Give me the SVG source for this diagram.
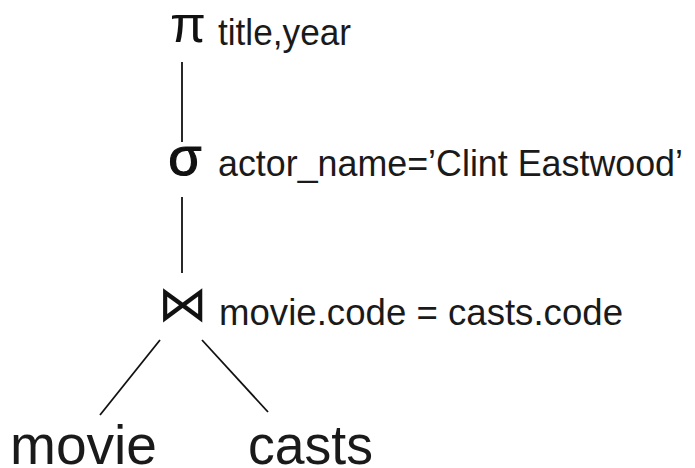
<svg xmlns="http://www.w3.org/2000/svg" width="695" height="468" viewBox="0 0 695 468">
<style>
.lbl{font-family:"Liberation Sans","Helvetica Neue",Arial,sans-serif;font-size:36px;fill:#1a1a1a}
.big{font-family:"Liberation Sans","Helvetica Neue",Arial,sans-serif;font-size:56px;fill:#1a1a1a}
.op{font-family:"Liberation Sans","DejaVu Sans",sans-serif;fill:#111;text-anchor:middle}
.edge{stroke:#111;stroke-width:1.8;fill:none}
</style>
<rect width="695" height="468" fill="#fff"/>
<g id="connectors">
<line class="edge" x1="182" y1="62" x2="182" y2="142"/>
<line class="edge" x1="182" y1="197" x2="182" y2="273"/>
<line class="edge" x1="160" y1="340" x2="100" y2="415"/>
<line class="edge" x1="202" y1="340" x2="268" y2="412"/>
</g>
<g id="project">
<text class="op" x="188" y="42" font-size="52">π</text>
<text class="lbl" x="218" y="45" textLength="133" lengthAdjust="spacingAndGlyphs">title,year</text>
</g>
<g id="select">
<text class="op" x="185" y="175" font-size="54" stroke="#111" stroke-width="1.2">σ</text>
<text class="lbl" x="218" y="176" textLength="465" lengthAdjust="spacingAndGlyphs">actor_name=’Clint Eastwood’</text>
</g>
<g id="join">
<text class="op" x="183" y="321" font-size="50" style="font-family:'DejaVu Sans',sans-serif">⋈</text>
<text class="lbl" x="219" y="325" textLength="404" lengthAdjust="spacingAndGlyphs">movie.code = casts.code</text>
</g>
<g id="movie">
<text class="big" x="10" y="464" textLength="147" lengthAdjust="spacingAndGlyphs">movie</text>
</g>
<g id="casts">
<text class="big" x="248" y="464" textLength="125" lengthAdjust="spacingAndGlyphs">casts</text>
</g>
</svg>
